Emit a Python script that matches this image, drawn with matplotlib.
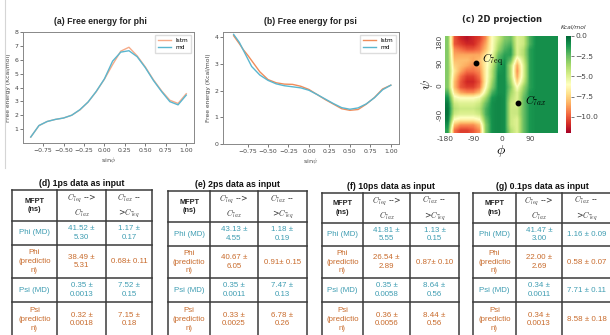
"""
Free energy profiles (phi / psi), 2D projection and MFPT tables.
Single figure, 610x335 px.
"""

import numpy as np
import matplotlib
matplotlib.use('Agg')
import matplotlib.pyplot as plt

plt.rcParams['mathtext.fontset'] = 'cm'

# ── DATA ──────────────────────────────────────────────────────────────────────
SIN_PHI = [-0.9, -0.8, -0.7, -0.6, -0.5, -0.4, -0.3, -0.2, -0.1, 0.0,
           0.1, 0.2, 0.3, 0.4, 0.5, 0.6, 0.7, 0.8, 0.9, 1.0]
PHI_LSTM = [0.43, 1.25, 1.55, 1.70, 1.80, 2.00, 2.38, 2.95, 3.70, 4.60,
            5.65, 6.62, 6.90, 6.28, 5.48, 4.55, 3.75, 3.08, 2.85, 3.55]
PHI_MD = [0.43, 1.26, 1.55, 1.70, 1.80, 2.00, 2.40, 2.95, 3.72, 4.62,
          5.90, 6.55, 6.65, 6.22, 5.43, 4.50, 3.70, 2.98, 2.75, 3.45]

SIN_PSI = [-0.92, -0.85, -0.8, -0.75, -0.7, -0.6, -0.5, -0.4, -0.3, -0.2, -0.1,
           0.0, 0.1, 0.2, 0.3, 0.4, 0.5, 0.6, 0.7, 0.8, 0.9, 1.0]
PSI_LSTM = [4.05, 3.75, 3.52, 3.33, 3.12, 2.70, 2.41, 2.29, 2.24, 2.23, 2.16,
            2.04, 1.85, 1.66, 1.49, 1.32, 1.26, 1.29, 1.49, 1.74, 2.06, 2.20]
PSI_MD = [4.10, 3.80, 3.50, 3.20, 2.90, 2.58, 2.38, 2.25, 2.18, 2.14, 2.10,
          2.01, 1.85, 1.68, 1.51, 1.36, 1.30, 1.35, 1.50, 1.73, 2.03, 2.20]

# 2D free energy (Kcal/mol), rows psi 170 -> -170, cols phi -170 -> 170 (20 deg)
FE_2D = [
    [-3, -10, -11, -11.5, -11, -10.5, -9, -6, -4.5, -3, -2.5, -5, -4.5, -2, -1, -1, -1, -1],
    [-3, -10, -10.5, -11, -11, -10, -8.5, -6, -4, -2.5, -2, -5, -4.5, -2, -1, -1, -1, -1],
    [-3, -9, -9.5, -10, -10, -9.5, -8, -6, -3.5, -2, -1.5, -5, -4, -1.5, -1, -1, -1, -1],
    [-3, -8.5, -8.5, -8.5, -8.5, -8.5, -7, -5.5, -2.5, -1.5, -1.5, -5, -4, -1.5, -1, -1, -1, -1],
    [-3, -8, -8, -8, -8.5, -8, -6.5, -5, -2, -1.2, -2.5, -7, -4.5, -1.5, -1, -1, -1, -1],
    [-3, -7.5, -8, -8.5, -9, -8.5, -6.5, -4.5, -1.5, -1, -4, -8.5, -5, -1.5, -1, -1, -1, -1],
    [-3, -7, -8.5, -9.5, -9.5, -9, -6.5, -4, -1.2, -1, -4, -9, -5, -1.5, -1, -1, -1, -1],
    [-3, -7.5, -9.5, -10.5, -10.5, -9.5, -6.5, -4, -1, -1, -4, -8.5, -5, -1.5, -1, -1, -1, -1],
    [-3, -8, -10, -11, -11, -10, -6.5, -3.5, -1, -1, -3.5, -7.5, -4.5, -1.5, -1, -1, -1, -1],
    [-3, -8, -10, -10.5, -10.5, -9.5, -6, -3, -1, -1, -3, -6, -3.5, -1.5, -1, -1, -1, -1],
    [-2, -7, -8.5, -9, -9, -8, -5, -2, -1, -1, -3.5, -5, -3, -1.2, -1, -1, -1, -1],
    [-1, -5.5, -6, -6, -6, -5.5, -3.5, -1.2, -0.8, -1, -4, -5, -2.5, -1.2, -1, -1, -1, -1],
    [-0.5, -4.5, -5, -5, -5, -4.5, -2.5, -1, -0.8, -1, -4.5, -5, -2.5, -1.2, -1, -1, -1, -1],
    [-0.3, -4, -4.5, -4.5, -4.5, -4, -2, -1, -0.8, -1, -4.5, -4.5, -2.5, -1.2, -1, -1, -1, -1],
    [-0.3, -4.5, -5, -5, -5, -4.5, -2, -1, -0.8, -1, -4.5, -4.5, -2.5, -1.2, -1, -1, -1, -1],
    [-0.5, -6, -6.5, -6.5, -6.5, -6, -2.5, -1, -0.8, -1, -4.5, -5, -2.5, -1.2, -1, -1, -1, -1],
    [-1, -8, -9, -9, -9, -8, -3, -1, -0.8, -1, -4.5, -5, -2.5, -1.2, -1, -1, -1, -1],
    [-1.5, -9.5, -10.5, -10.5, -10, -9, -3, -1, -0.8, -1, -4, -5, -2.5, -1.2, -1, -1, -1, -1],
]
C7EQ = (-82, 81)
C7AX = (53, -68)
HM_XTICKS = [-180, -90, 0, 90]
HM_YTICKS = [158, 78, -6, -112]
HM_YLABELS = ['180', '90', '0', '-90']
CB_TICKS = [0.0, -2.5, -5.0, -7.5, -10.0]

TABLE_TITLES = ['(d) 1ps data as input', '(e) 2ps data as input',
                '(f) 10ps data as input', '(g) 0.1ps data as input']
HEADERS = ['MFPT\n(ns)', '$C_{7eq}$ -->\n$C_{7ax}$', '$C_{7ax}$ --\n>$C_{7eq}$']
ROW_LABELS = ['Phi (MD)', 'Phi\n(predictio\nn)', 'Psi (MD)', 'Psi\n(predictio\nn)']

D_EQ_AX = ['41.52 ±\n5.30', '38.49 ±\n5.31', '0.35 ±\n0.0013', '0.32 ±\n0.0018']
D_AX_EQ = ['1.17 ±\n0.17', '0.68± 0.11', '7.52 ±\n0.15', '7.15 ±\n0.18']
E_EQ_AX = ['43.13 ±\n4.55', '40.67 ±\n6.05', '0.35 ±\n0.0011', '0.33 ±\n0.0025']
E_AX_EQ = ['1.18 ±\n0.19', '0.91± 0.15', '7.47 ±\n0.13', '6.78 ±\n0.26']
F_EQ_AX = ['41.81 ±\n5.55', '26.54 ±\n2.89', '0.35 ±\n0.0058', '0.36 ±\n0.0056']
F_AX_EQ = ['1.13 ±\n0.15', '0.87± 0.10', '8.64 ±\n0.56', '8.44 ±\n0.56']
G_EQ_AX = ['41.47 ±\n3.00', '22.00 ±\n2.69', '0.34 ±\n0.0011', '0.34 ±\n0.0013']
G_AX_EQ = ['1.16 ± 0.09', '0.58 ± 0.07', '7.71 ± 0.11', '8.58 ± 0.18']

# ── STYLE / LAYOUT ────────────────────────────────────────────────────────────
W, H = 610, 335
LSTM_PHI_C = '#f6aa88'
LSTM_PSI_C = '#f08c5a'
MD_C = '#5ab6cf'
TEAL = '#3f9db2'
ORANGE = '#c86b2c'
GRID_C = '#3a3a3a'
SANS = 'Liberation Sans'

# table geometry in pixels: column edges, row edges
TABLE_GEOM = [
    ([12, 57, 106, 152], [190, 221, 245, 278, 302, 337]),
    ([168, 210, 258, 307], [191, 222, 246, 278, 302, 337]),
    ([322, 363, 410, 459], [193, 223, 246, 278, 302, 337]),
    ([473, 516, 562, 611], [193, 223, 246, 278, 302, 337]),
]


def px_axes(fig, left, top, right, bottom):
    return fig.add_axes([left / W, 1 - bottom / H, (right - left) / W, (bottom - top) / H])


def style_line_axes(ax):
    for sp in ax.spines.values():
        sp.set_color('#888888')
        sp.set_linewidth(0.7)
    ax.tick_params(labelsize=4.4, length=2, width=0.5, pad=1.5,
                   colors='#444444')


def draw_curve_panel(ax, x, lstm, md, lstm_color, xlabel):
    ax.plot(x, lstm, color=lstm_color, lw=1.0, label='lstm')
    ax.plot(x, md, color=MD_C, lw=1.0, label='md')
    ax.set_xticks([-0.75, -0.5, -0.25, 0.0, 0.25, 0.5, 0.75, 1.0])
    ax.set_xlabel(xlabel, fontsize=4.6, labelpad=1.5, color='#444444')
    ax.set_ylabel('Free energy (Kcal/mol)', fontsize=4.3, labelpad=2, color='#444444')
    ax.legend(loc='upper right', fontsize=4.2, handlelength=2.2,
              borderpad=0.5, labelspacing=0.4, framealpha=1,
              edgecolor='#dddddd', fancybox=False)
    style_line_axes(ax)


def draw_table(ax, xs, ys, title, col_eq_ax, col_ax_eq):
    for xv in xs:
        ax.plot([xv, xv], [ys[0], ys[-1]], color=GRID_C, lw=1.1,
                solid_capstyle='projecting')
    for yv in ys:
        ax.plot([xs[0], xs[-1]], [yv, yv], color=GRID_C, lw=1.1,
                solid_capstyle='projecting')
    ax.text((xs[0] + xs[-1]) / 2, ys[0] - 6.5, title, ha='center', va='center',
            fontsize=6.3, fontweight='bold', family=SANS, color='#111111')
    cx = [(xs[i] + xs[i + 1]) / 2 for i in range(3)]
    cy = [(ys[i] + ys[i + 1]) / 2 for i in range(5)]
    ax.text(cx[0], cy[0], HEADERS[0], ha='center', va='center', fontsize=5.3,
            fontweight='bold', family=SANS, linespacing=1.3, color='#222222')
    for j in (1, 2):
        ax.text(cx[j], cy[0], HEADERS[j], ha='center', va='center',
                fontsize=5.6, linespacing=1.3, color='#333333')
    for i, lab in enumerate(ROW_LABELS):
        color = TEAL if i % 2 == 0 else ORANGE
        ax.text(cx[0], cy[i + 1], lab, ha='center', va='center', fontsize=5.7,
                family=SANS, linespacing=1.3, color=color)
        ax.text(cx[1], cy[i + 1], col_eq_ax[i], ha='center', va='center',
                fontsize=5.7, family=SANS, linespacing=1.3, color=color)
        ax.text(cx[2], cy[i + 1], col_ax_eq[i], ha='center', va='center',
                fontsize=5.7, family=SANS, linespacing=1.3, color=color)


def main():
    fig = plt.figure(figsize=(W / 100, H / 100), dpi=100)

    # ── (a) phi ───────────────────────────────────────────────────────────────
    ax_a = px_axes(fig, 23, 32, 194, 143)
    draw_curve_panel(ax_a, SIN_PHI, PHI_LSTM, PHI_MD, LSTM_PHI_C, r'sin$\phi$')
    ax_a.set_xlim(-0.995, 1.095)
    ax_a.set_ylim(0, 8)
    ax_a.set_yticks(range(1, 9))
    fig.text(100 / W, 1 - 21 / H, '(a) Free energy for phi', ha='center', va='center',
             fontsize=6.3, fontweight='bold', family=SANS, color='#222222')

    # ── (b) psi ───────────────────────────────────────────────────────────────
    ax_b = px_axes(fig, 223, 32, 399, 144)
    draw_curve_panel(ax_b, SIN_PSI, PSI_LSTM, PSI_MD, LSTM_PSI_C, r'sin$\psi$')
    ax_b.set_xlim(-1.05, 1.10)
    ax_b.set_ylim(0, 4.19)
    ax_b.set_yticks(range(0, 5))
    fig.text(310 / W, 1 - 21 / H, '(b) Free energy for psi', ha='center', va='center',
             fontsize=6.3, fontweight='bold', family=SANS, color='#222222')

    # ── (c) 2D projection ────────────────────────────────────────────────────
    ax_c = px_axes(fig, 445, 36, 558, 133)
    im = ax_c.imshow(np.array(FE_2D), cmap='RdYlGn', vmin=-12, vmax=0,
                     extent=[-180, 180, -180, 180], aspect='auto',
                     interpolation='bilinear')
    for sp in ax_c.spines.values():
        sp.set_visible(False)
    ax_c.set_xticks(HM_XTICKS)
    ax_c.set_xticklabels([str(v) for v in HM_XTICKS])
    ax_c.set_yticks(HM_YTICKS)
    ax_c.set_yticklabels(HM_YLABELS, rotation=90, va='center')
    ax_c.tick_params(length=0, labelsize=5.4, pad=2, colors='#444444')
    ax_c.set_xlabel(r'$\phi$', fontsize=10, labelpad=1)
    ax_c.set_ylabel(r'$\psi$', fontsize=10, labelpad=1)
    ax_c.plot(*C7EQ, 'o', color='black', ms=3.2)
    ax_c.plot(*C7AX, 'o', color='black', ms=3.2)
    ax_c.text(C7EQ[0] + 20, C7EQ[1] + 10, r'$C_{7\mathrm{eq}}$', fontsize=8,
              va='center', ha='left')
    ax_c.text(C7AX[0] + 21, C7AX[1] + 7, r'$C_{7ax}$', fontsize=8,
              va='center', ha='left')

    cax = px_axes(fig, 566, 36, 571, 133)
    cb = fig.colorbar(im, cax=cax)
    cb.outline.set_visible(False)
    cb.set_ticks(CB_TICKS)
    cax.tick_params(labelsize=5.4, length=2, width=0.5, pad=1, colors='#444444')
    fig.text(574 / W, 1 - 27 / H, 'Kcal/mol', ha='center', va='center',
             fontsize=4.3, style='italic', color='#333333')
    fig.text(502 / W, 1 - 19 / H, '(c) 2D projection', ha='center', va='center',
             fontsize=6.0, fontweight='bold', color='#222222')

    # ── tables ────────────────────────────────────────────────────────────────
    ax_t = fig.add_axes([0, 0, 1, 1])
    ax_t.set_xlim(0, W)
    ax_t.set_ylim(H, 0)
    ax_t.axis('off')
    ax_t.plot([5, 5], [0, 168], color='#d5d5d5', lw=0.8)

    columns = [(D_EQ_AX, D_AX_EQ), (E_EQ_AX, E_AX_EQ),
               (F_EQ_AX, F_AX_EQ), (G_EQ_AX, G_AX_EQ)]
    for (xs, ys), title, (c1, c2) in zip(TABLE_GEOM, TABLE_TITLES, columns):
        draw_table(ax_t, xs, ys, title, c1, c2)

    fig.savefig('out.png', dpi=100)
    plt.close(fig)


if __name__ == '__main__':
    main()
